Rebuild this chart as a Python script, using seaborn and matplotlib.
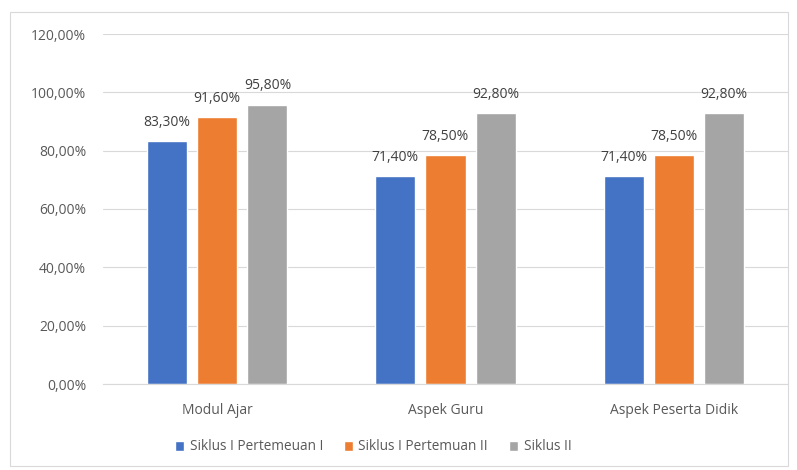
import pandas as pd
import matplotlib
matplotlib.use('Agg')
import matplotlib.pyplot as plt
from matplotlib.ticker import FuncFormatter, MultipleLocator
from matplotlib.patches import Rectangle
import seaborn as sns

categories = ['Modul Ajar', 'Aspek Guru', 'Aspek Peserta Didik']
series = ['Siklus I Pertemeuan I', 'Siklus I Pertemuan II', 'Siklus II']
siklus1_p1 = [83.3, 71.4, 71.4]
siklus1_p2 = [91.6, 78.5, 78.5]
siklus2 = [95.8, 92.8, 92.8]
colors = ['#4472C4', '#ED7D31', '#A5A5A5']

# data long format for seaborn
rows = []
for name, vals in zip(series, [siklus1_p1, siklus1_p2, siklus2]):
    for cat, v in zip(categories, vals):
        rows.append({'kategori': cat, 'seri': name, 'nilai': v})
df = pd.DataFrame(rows)

sns.set_style('white')
plt.rcParams['font.family'] = ['Open Sans', 'DejaVu Sans']

fig = plt.figure(figsize=(7.97, 4.70), dpi=100)
fig.patches.append(Rectangle((10 / 797, 4 / 470), 778 / 797, 454 / 470, transform=fig.transFigure,
                             fill=False, edgecolor='#D9D9D9', linewidth=0.8))
ax = fig.add_axes([103 / 797, 86 / 470, 685 / 797, 350 / 470])

sns.barplot(data=df, x='kategori', y='nilai', hue='seri', palette=colors, order=categories,
            hue_order=series, width=0.66, gap=0.2, ax=ax, legend=True, saturation=1)

ax.set_ylim(0, 120)
ax.set_xlim(-0.5, 2.5)
ax.yaxis.set_major_locator(MultipleLocator(20))
ax.yaxis.set_major_formatter(FuncFormatter(lambda v, p: f'{v:.2f}'.replace('.', ',') + '%'))
ax.grid(axis='y', color='#D9D9D9', linewidth=0.8)
ax.set_axisbelow(True)
for s in ['top', 'right', 'left']:
    ax.spines[s].set_visible(False)
ax.spines['bottom'].set_color('#D9D9D9')
ax.tick_params(axis='both', length=0, labelsize=10, labelcolor='#595959')
ax.tick_params(axis='y', pad=12)
ax.tick_params(axis='x', pad=14)
ax.set_xlabel('')
ax.set_ylabel('')

for cont in ax.containers:
    ax.bar_label(cont, labels=[f'{b.get_height():.2f}'.replace('.', ',') + '%' for b in cont],
                 padding=8, fontsize=10, color='#404040')

# legend agak ke kiri seperti di excel
leg_x = (373 - 103) / 685
leg = ax.legend(loc='center', bbox_to_anchor=(leg_x, -0.18), ncol=3, frameon=False,
                fontsize=9.8, handlelength=0.7, handleheight=0.7, handletextpad=0.4,
                columnspacing=1.5)
for t in leg.get_texts():
    t.set_color('#595959')

fig.savefig('out.png', dpi=100)
